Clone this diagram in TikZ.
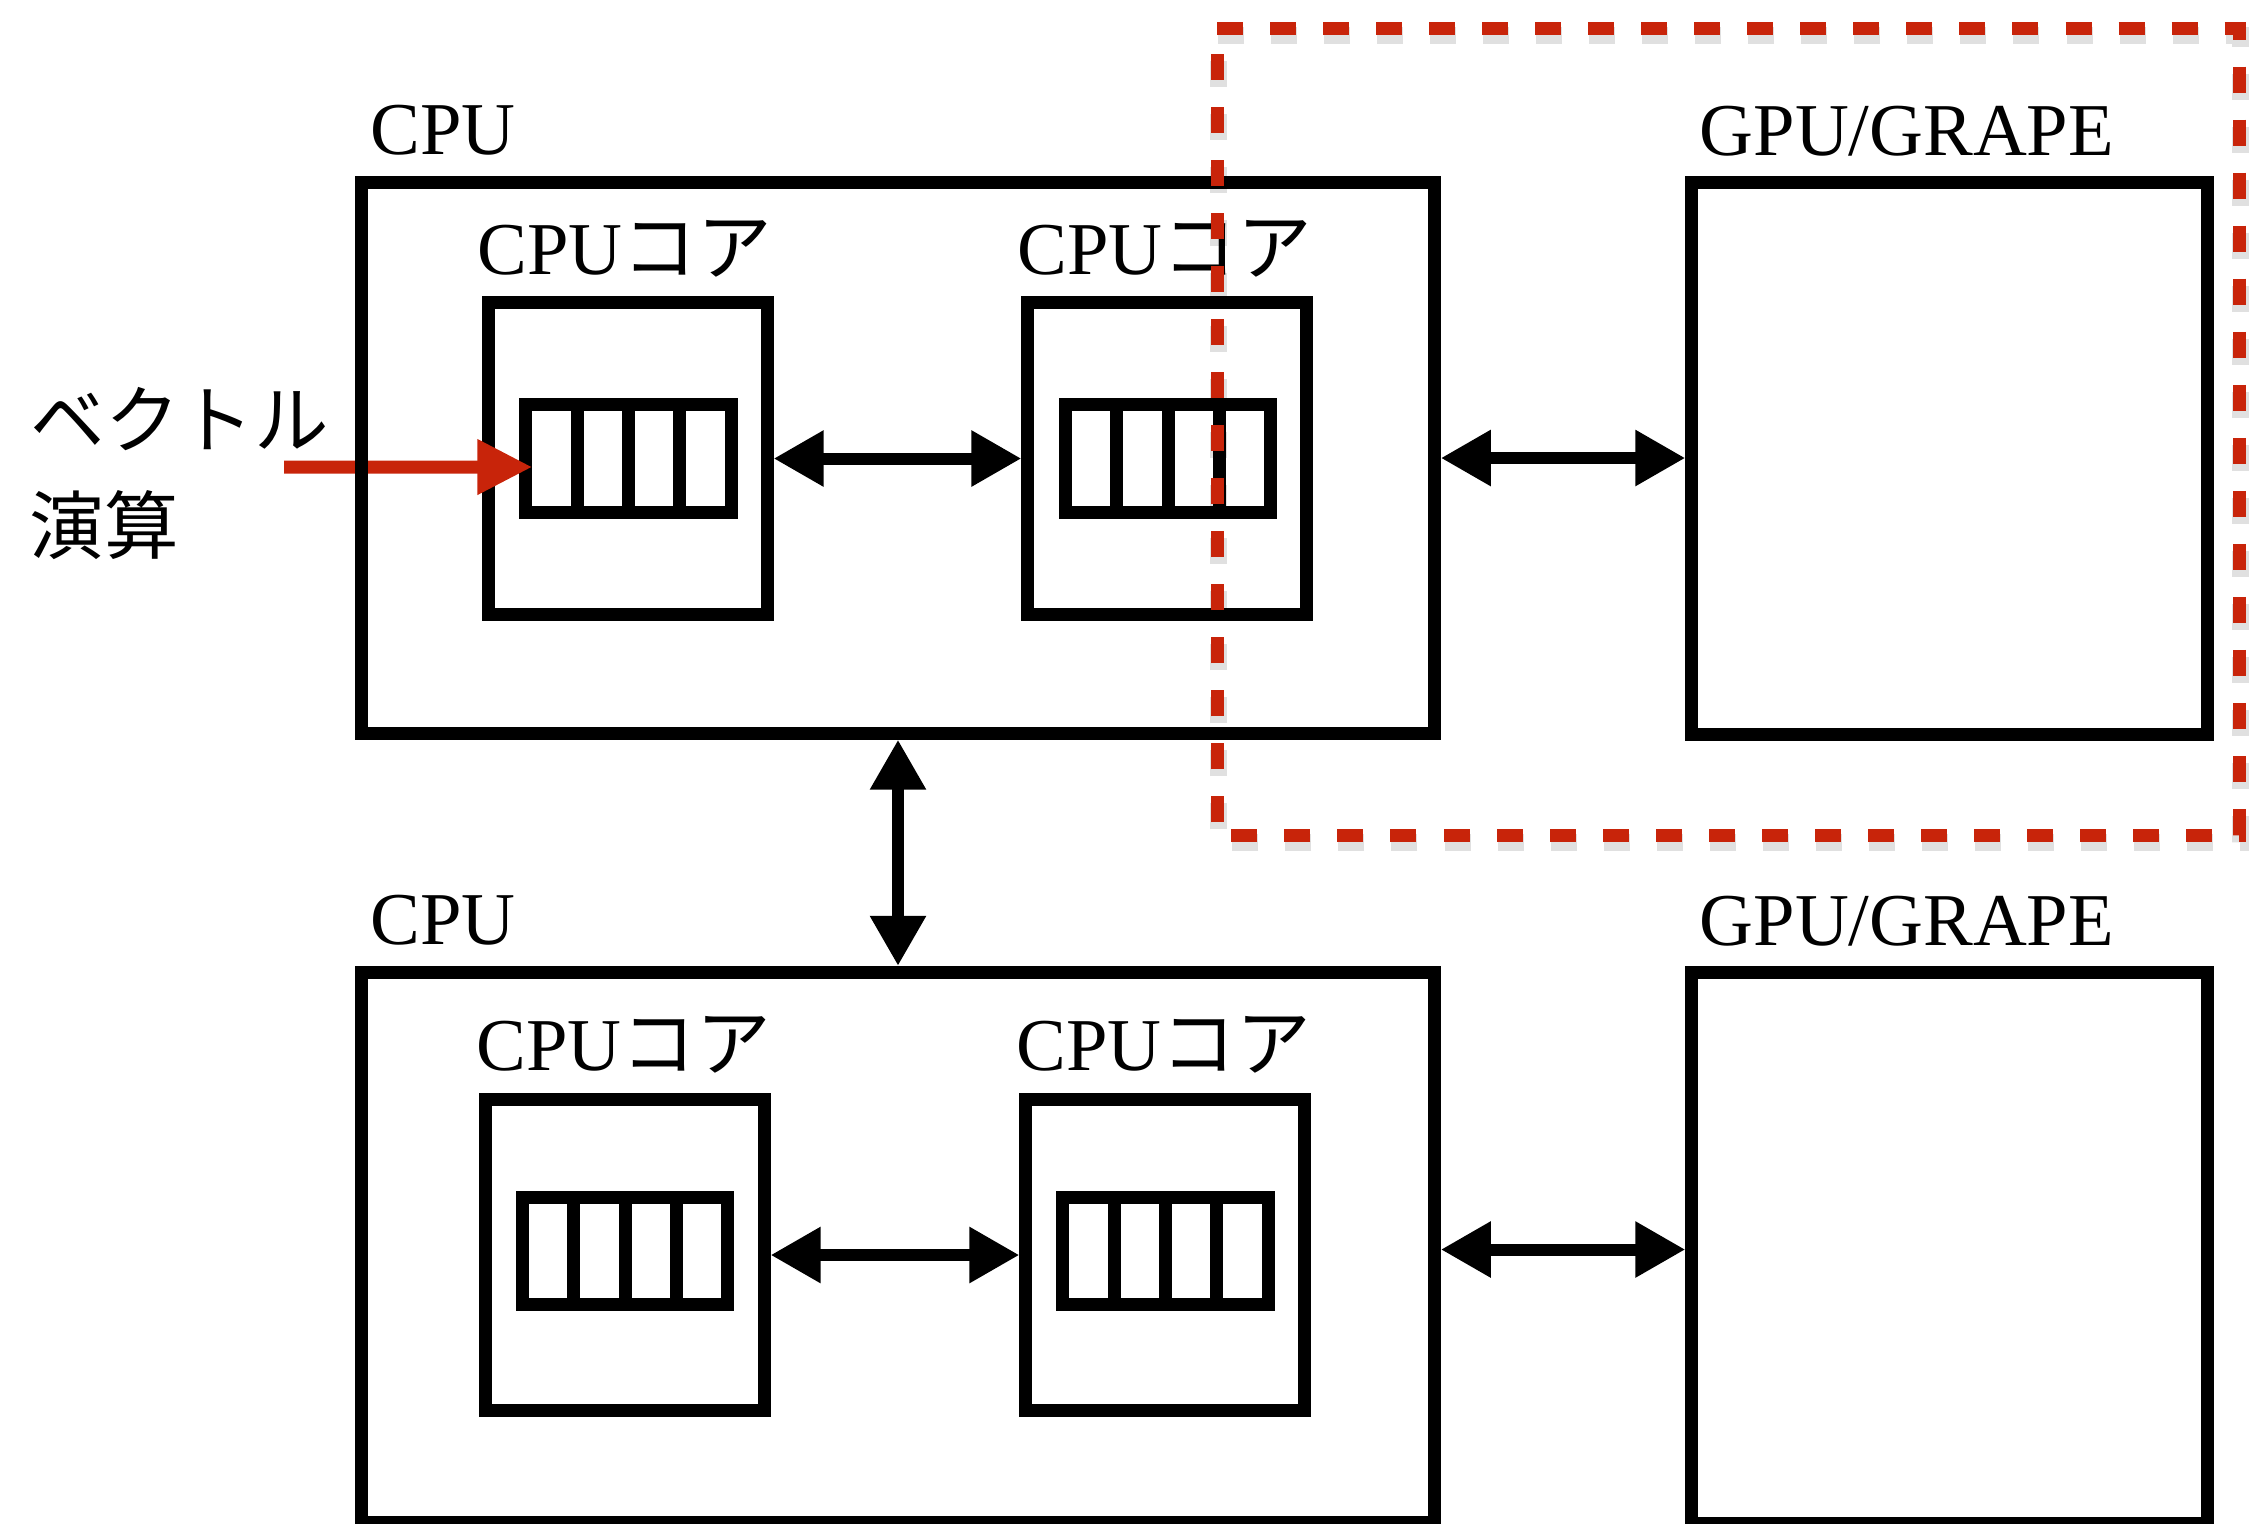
\documentclass[tikz,border=0pt]{standalone}
\usepackage{fontspec}
\setmainfont{Liberation Serif}
\newfontfamily\jfont{Noto Sans CJK JP}
\usetikzlibrary{arrows.meta,calc}
\definecolor{redline}{RGB}{200,36,10}
\begin{document}
\begin{tikzpicture}[x=0.01cm,y=-0.01cm,
  box/.style={draw, line width=0.13cm, inner sep=0pt, outer sep=0.065cm, rectangle},
  reg/.style={draw, line width=0.13cm, inner sep=0pt, outer sep=0pt, rectangle},
  divider/.style={line width=0.13cm},
  biarrow/.style={line width=0.12cm, {Triangle[length=0.5cm,width=0.53cm]}-{Triangle[length=0.5cm,width=0.53cm]}},
  redarrow/.style={draw=redline, line width=0.13cm, -{Triangle[length=0.55cm,width=0.52cm]}, redline},
  hilite/.style={draw=redline, line width=0.13cm, dash pattern=on 0.26cm off 0.27cm},
  hshadow/.style={draw=black, opacity=0.12, line width=0.17cm, dash pattern=on 0.26cm off 0.27cm},
  lbl/.style={inner sep=0pt, anchor=base west, font=\fontsize{21.2}{25}\selectfont}]
\useasboundingbox (0,0) rectangle (2254,1523);

% cores and registers
\node[box, minimum width=2.78cm, minimum height=3.11cm] (coreA1) at (628,458.5) {};
\node[box, minimum width=2.78cm, minimum height=3.11cm] (coreA2) at (1167,458.5) {};
\node[box, minimum width=2.78cm, minimum height=3.11cm] (coreB1) at (625,1255) {};
\node[box, minimum width=2.78cm, minimum height=3.11cm] (coreB2) at (1165,1255) {};
\node[reg, minimum width=2.05cm, minimum height=1.07cm] (regA1) at (628.5,458.5) {};
\node[reg, minimum width=2.05cm, minimum height=1.07cm] (regA2) at (1168,458.5) {};
\node[reg, minimum width=2.05cm, minimum height=1.07cm] (regB1) at (625,1251) {};
\node[reg, minimum width=2.05cm, minimum height=1.07cm] (regB2) at (1165.5,1251) {};
\foreach \r in {regA1,regA2,regB1,regB2}{
  \foreach \f in {0.25,0.5,0.75}{
    \draw[divider] ($(\r.north west)!\f!(\r.north east)$) -- ($(\r.south west)!\f!(\r.south east)$);
  }
}

% vector arrow
\coordinate (vstart) at (284,467);
\draw[redarrow] (vstart) -- ([shift={(0.065cm,-0.085cm)}]regA1.west);

% CPU and GPU boxes
\node[box, minimum width=10.72cm, minimum height=5.5cm] (cpuA) at (898,458) {};
\node[box, minimum width=5.15cm, minimum height=5.51cm] (gpuA) at (1949.5,458.5) {};
\node[box, minimum width=10.72cm, minimum height=5.5cm] (cpuB) at (898,1247.5) {};
\node[box, minimum width=5.15cm, minimum height=5.5cm] (gpuB) at (1949.5,1248) {};

% connectors
\draw[biarrow] (coreA1) -- (coreA2);
\draw[biarrow] (cpuA.east) -- (cpuA.east -| gpuA.west);
\draw[biarrow] (cpuA.south) -- (cpuB.north);
\draw[biarrow] (coreB1) -- (coreB2);
\draw[biarrow] ([yshift=-0.02cm]cpuB.east) -- ([yshift=-0.02cm]cpuB.east -| gpuB.west);

% labels
\node[lbl] (lcpuA) at (370,154) {CPU};
\node[lbl] (lgpuA) at (1699,155) {GPU/GRAPE};
\node[lbl] (lcoreA1) at (477,274) {CPU{\jfont コア}};
\node[lbl] (lcoreA2) at (1017,274) {CPU{\jfont コア}};
\node[lbl] (lcpuB) at (370,944) {CPU};
\node[lbl] (lgpuB) at (1699,945) {GPU/GRAPE};
\node[lbl] (lcoreB1) at (476,1070) {CPU{\jfont コア}};
\node[lbl] (lcoreB2) at (1016,1070) {CPU{\jfont コア}};
\node[lbl] (lvec1) at (30,447) {\jfont ベクトル};
\node[lbl] (lvec2) at (29,553) {\jfont 演算};

% highlight frame
\draw[hshadow] (1218,35) -- (2240,35) -- (2240,842) -- (1218,842) -- cycle;
\draw[hilite] (1217,28) -- (2239,28) -- (2239,835) -- (1217,835) -- cycle;
\end{tikzpicture}
\end{document}
